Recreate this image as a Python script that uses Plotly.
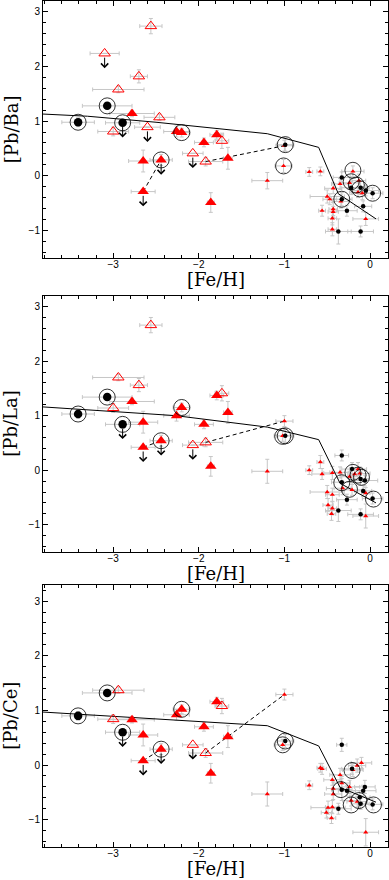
import plotly.graph_objects as go

# ---- metal-poor stars (big symbols), same [Fe/H] in the three panels ----
# open red triangles
opn_feh = [-2.56, -3.10, -2.70, -2.94, -2.46, -2.60, -3.00, -1.73, -2.07, -1.92]
opn_xerr = [0.13, 0.17, 0.10, 0.30, 0.18, 0.15, 0.18, 0.08, 0.12, 0.20]
opn_yerr = [0.14, 0.0, 0.12, 0.06, 0.06, 0.0, 0.08, 0.14, 0.0, 0.08]
opn_limit = [False, True, False, False, False, True, False, False, True, False]
opn_pbba = [2.74, 2.24, 1.82, 1.58, 1.07, 0.89, 0.81, 0.64, 0.41, 0.26]
opn_pbla = [2.66, None, 1.56, 1.70, None, None, 1.14, 1.41, 0.46, 0.51]
opn_pbce = [None, None, None, 1.37, None, None, 0.84, 1.08, 0.37, 0.22]

# filled red triangles
fil_feh = [-2.78, -2.26, -2.20, -1.79, -1.94, -1.66, -2.65, -2.44, -2.65, -1.86]
fil_xerr = [0.26, 0.15, 0.10, 0.08, 0.11, 0.05, 0.17, 0.13, 0.14, 0.04]
fil_yerr = [0.06, 0.10, 0.08, 0.08, 0.08, 0.20, 0.20, 0.10, 0.0, 0.18]
fil_limit = [False, False, False, False, False, False, False, True, True, False]
fil_circled = [False, False, True, False, False, False, False, True, False, False]
fil_pbba = [1.14, 0.81, 0.79, 0.75, 0.61, 0.32, 0.27, 0.29, -0.29, -0.49]
fil_pbla = [1.26, 1.00, 1.15, 1.37, 0.84, 1.06, 0.88, 0.54, 0.42, 0.07]
fil_pbce = [0.83, 0.92, 1.02, 1.16, 0.70, 0.52, 0.55, 0.29, 0.08, -0.15]

# big black dots (all circled)
big_feh = [-3.41, -3.07, -2.89]
big_xerr = [0.19, 0.29, 0.20]
big_yerr = [0.08, 0.06, 0.06]
big_limit = [False, False, True]
big_pbba = [0.98, 1.28, 0.97]
big_pbla = [1.03, 1.34, 0.84]
big_pbce = [0.90, 1.32, 0.60]

# second measurement at [Fe/H]=-1.0 joined by a dashed line to open triangle #10
link_feh = -1.0
link_xerr = 0.10
link_yerr = 0.10
link_pb = [0.55, 0.90, 1.29]

# ---- small symbols (metal-rich stars), one set per panel ----
ba_red_x = [-1.20, -1.01, -0.71, -0.58, -0.20, -0.35, -0.24, -0.13, -0.43, -0.14, -0.09, -0.50, -0.47, -0.34, -0.56, -0.43, -0.43, -0.44, -0.05, -0.44]
ba_red_y = [-0.09, 0.18, 0.07, 0.08, 0.08, -0.15, -0.13, -0.09, -0.23, -0.30, -0.32, -0.38, -0.43, -0.47, -0.64, -0.61, -0.66, -0.78, -0.79, -0.98]
ba_red_xerr = [0.18, 0.10, 0.04, 0.04, 0.13, 0.10, 0.12, 0.08, 0.10, 0.10, 0.12, 0.20, 0.08, 0.10, 0.04, 0.05, 0.06, 0.05, 0.15, 0.05]
ba_red_yerr = [0.15, 0.12, 0.08, 0.08, 0.10, 0.10, 0.12, 0.12, 0.10, 0.10, 0.12, 0.12, 0.10, 0.12, 0.10, 0.12, 0.10, 0.12, 0.12, 0.12]
ba_blk_x = [-0.99, -0.33, -0.22, -0.11, -0.05, 0.03, -0.33, -0.27, -0.08, -0.37, -0.11]
ba_blk_y = [0.57, -0.03, -0.22, -0.22, -0.27, -0.32, -0.43, -0.64, -0.56, -1.02, -1.02]
ba_blk_xerr = [0.10, 0.10, 0.12, 0.10, 0.15, 0.12, 0.12, 0.12, 0.10, 0.15, 0.15]
ba_blk_yerr = [0.12, 0.10, 0.12, 0.12, 0.10, 0.10, 0.12, 0.10, 0.10, 0.23, 0.10]
ba_ring_x = [-0.99, -1.01, -0.20, -0.22, -0.16, -0.12, 0.03, -0.33]
ba_ring_y = [0.57, 0.18, 0.10, -0.11, -0.17, -0.24, -0.32, -0.43]

la_red_x = [-1.20, -1.02, -0.58, -0.71, -0.56, -0.44, -0.35, -0.14, -0.12, -0.18, -0.24, -0.32, -0.21, -0.50, -0.44, -0.05, -0.49, -0.44, -0.45, -0.05]
la_red_y = [-0.02, 0.63, 0.15, 0.00, -0.07, -0.05, -0.04, 0.02, -0.06, -0.07, -0.12, -0.33, -0.36, -0.40, -0.45, -0.42, -0.64, -0.70, -0.80, -0.84]
la_red_xerr = [0.18, 0.10, 0.04, 0.04, 0.12, 0.10, 0.12, 0.10, 0.12, 0.08, 0.10, 0.10, 0.12, 0.20, 0.08, 0.05, 0.06, 0.05, 0.05, 0.15]
la_red_yerr = [0.22, 0.10, 0.12, 0.08, 0.10, 0.12, 0.10, 0.12, 0.12, 0.10, 0.10, 0.12, 0.10, 0.12, 0.12, 0.10, 0.12, 0.12, 0.12, 0.22]
la_blk_x = [-0.99, -0.33, -0.21, -0.11, -0.06, -0.33, 0.03, -0.08, -0.27, -0.37, -0.11]
la_blk_y = [0.63, 0.27, 0.02, -0.16, -0.19, -0.22, -0.52, -0.38, -0.54, -0.74, -0.81]
la_blk_xerr = [0.10, 0.08, 0.12, 0.10, 0.15, 0.12, 0.12, 0.10, 0.12, 0.15, 0.15]
la_blk_yerr = [0.12, 0.10, 0.12, 0.12, 0.10, 0.12, 0.10, 0.10, 0.10, 0.20, 0.10]
la_ring_x = [-0.99, -1.02, -0.20, -0.14, -0.10, -0.33, -0.24, 0.04]
la_ring_y = [0.63, 0.62, -0.04, -0.09, -0.13, -0.23, -0.35, -0.53]

ce_red_x = [-1.20, -1.02, -0.71, -0.58, -0.56, -0.35, -0.44, -0.43, -0.43, -0.20, -0.15, -0.10, -0.24, -0.33, -0.15, -0.22, -0.49, -0.44, -0.51, -0.45, -0.05]
ce_red_y = [-0.53, 0.37, -0.37, -0.05, -0.07, -0.18, -0.27, -0.43, -0.53, -0.09, -0.01, 0.04, -0.40, -0.33, -0.67, -0.65, -0.78, -0.77, -0.87, -0.97, -1.23]
ce_red_xerr = [0.18, 0.10, 0.04, 0.04, 0.05, 0.12, 0.10, 0.08, 0.10, 0.12, 0.10, 0.12, 0.12, 0.10, 0.12, 0.10, 0.20, 0.08, 0.06, 0.05, 0.15]
ce_red_yerr = [0.22, 0.10, 0.08, 0.08, 0.10, 0.12, 0.10, 0.12, 0.10, 0.12, 0.12, 0.10, 0.12, 0.12, 0.10, 0.10, 0.12, 0.12, 0.10, 0.10, 0.25]
ce_blk_x = [-0.99, -0.33, -0.21, -0.06, -0.08, -0.33, -0.27, -0.12, -0.11, 0.03, -0.37]
ce_blk_y = [0.44, 0.37, -0.07, -0.40, -0.47, -0.45, -0.47, -0.59, -0.71, -0.72, -0.80]
ce_blk_xerr = [0.10, 0.06, 0.12, 0.12, 0.15, 0.12, 0.10, 0.12, 0.10, 0.12, 0.15]
ce_blk_yerr = [0.12, 0.12, 0.10, 0.12, 0.10, 0.20, 0.10, 0.12, 0.10, 0.10, 0.10]
ce_ring_x = [-0.99, -1.02, -0.21, -0.34, -0.22, -0.13, 0.04]
ce_ring_y = [0.44, 0.37, -0.10, -0.45, -0.73, -0.65, -0.73]

# ---- model curves ----
ba_model_x = [-3.82, -3.30, -2.50, -1.20, -0.60, -0.37, 0.07]
ba_model_y = [1.13, 1.09, 0.98, 0.77, 0.52, -0.33, -0.79]
la_model_x = [-3.82, -2.27, -1.20, -0.60, -0.35, 0.07]
la_model_y = [1.16, 1.00, 0.79, 0.56, -0.24, -0.60]
ce_model_x = [-3.82, -1.20, -0.60, -0.35, 0.07]
ce_model_y = [0.97, 0.72, 0.35, -0.41, -0.68]

ylabels = ["[Pb/Ba]", "[Pb/La]", "[Pb/Ce]"]
domains = [[0.6966, 1.0], [0.3487, 0.6517], [0.0, 0.3100]]
yranges = [[-1.5, 3.2], [-1.5, 3.2], [-1.5, 3.3]]

GREY = "#c6c6c6"
RED = "#ff0000"

panels = [
    dict(opn=opn_pbba, fil=fil_pbba, big=big_pbba, link=link_pb[0],
         rx=ba_red_x, ry=ba_red_y, rxe=ba_red_xerr, rye=ba_red_yerr,
         bx=ba_blk_x, by=ba_blk_y, bxe=ba_blk_xerr, bye=ba_blk_yerr,
         cx=ba_ring_x, cy=ba_ring_y, mx=ba_model_x, my=ba_model_y),
    dict(opn=opn_pbla, fil=fil_pbla, big=big_pbla, link=link_pb[1],
         rx=la_red_x, ry=la_red_y, rxe=la_red_xerr, rye=la_red_yerr,
         bx=la_blk_x, by=la_blk_y, bxe=la_blk_xerr, bye=la_blk_yerr,
         cx=la_ring_x, cy=la_ring_y, mx=la_model_x, my=la_model_y),
    dict(opn=opn_pbce, fil=fil_pbce, big=big_pbce, link=link_pb[2],
         rx=ce_red_x, ry=ce_red_y, rxe=ce_red_xerr, rye=ce_red_yerr,
         bx=ce_blk_x, by=ce_blk_y, bxe=ce_blk_xerr, bye=ce_blk_yerr,
         cx=ce_ring_x, cy=ce_ring_y, mx=ce_model_x, my=ce_model_y),
]


def keep(xs, ys, *others):
    idx = [i for i, v in enumerate(ys) if v is not None]
    return [[lst[i] for i in idx] for lst in (xs, ys) + others]


fig = go.Figure()
annotations = []

for p, d in enumerate(panels):
    xa = "x" if p == 0 else "x%d" % (p + 1)
    ya = "y" if p == 0 else "y%d" % (p + 1)

    ox, oy, oxe, oye, olim = keep(opn_feh, d["opn"], opn_xerr, opn_yerr, opn_limit)
    fx, fy, fxe, fye, flim, fcir = keep(fil_feh, d["fil"], fil_xerr, fil_yerr, fil_limit, fil_circled)

    # error bars underneath everything
    groups = [
        (d["rx"], d["ry"], d["rxe"], d["rye"]),
        (d["bx"], d["by"], d["bxe"], d["bye"]),
        ([link_feh], [d["link"]], [link_xerr], [link_yerr]),
        (ox, oy, oxe, oye),
        (fx, fy, fxe, fye),
        (big_feh, d["big"], big_xerr, big_yerr),
    ]
    for gx, gy, gxe, gye in groups:
        fig.add_trace(go.Scatter(
            x=gx, y=gy, mode="markers", xaxis=xa, yaxis=ya,
            marker=dict(size=1, opacity=0),
            error_x=dict(type="data", array=gxe, color=GREY, thickness=1, width=2),
            error_y=dict(type="data", array=gye, color=GREY, thickness=1, width=2),
            showlegend=False, hoverinfo="skip"))

    # model curve
    fig.add_trace(go.Scatter(x=d["mx"], y=d["my"], mode="lines", xaxis=xa, yaxis=ya,
                             line=dict(color="black", width=1), showlegend=False))
    # dashed links between two measurements of the same star
    fig.add_trace(go.Scatter(x=[fil_feh[8], fil_feh[7]], y=[d["fil"][8], d["fil"][7]],
                             mode="lines", xaxis=xa, yaxis=ya,
                             line=dict(color="black", width=1, dash="4px,3px"), showlegend=False))
    fig.add_trace(go.Scatter(x=[opn_feh[9], link_feh], y=[d["opn"][9], d["link"]],
                             mode="lines", xaxis=xa, yaxis=ya,
                             line=dict(color="black", width=1, dash="4px,3px"), showlegend=False))

    # small symbols
    fig.add_trace(go.Scatter(x=d["rx"] + [link_feh], y=d["ry"] + [d["link"]], mode="markers",
                             xaxis=xa, yaxis=ya, showlegend=False,
                             marker=dict(symbol="triangle-up", size=4.5, color=RED)))
    fig.add_trace(go.Scatter(x=d["bx"], y=d["by"], mode="markers", xaxis=xa, yaxis=ya,
                             showlegend=False, marker=dict(symbol="circle", size=4.5, color="black")))

    # big symbols
    fig.add_trace(go.Scatter(x=ox, y=oy, mode="markers", xaxis=xa, yaxis=ya, showlegend=False,
                             marker=dict(symbol="triangle-up-open", size=10, color=RED,
                                         line=dict(width=1))))
    fig.add_trace(go.Scatter(x=fx, y=fy, mode="markers", xaxis=xa, yaxis=ya, showlegend=False,
                             marker=dict(symbol="triangle-up", size=10, color=RED)))
    fig.add_trace(go.Scatter(x=big_feh, y=d["big"], mode="markers", xaxis=xa, yaxis=ya,
                             showlegend=False, marker=dict(symbol="circle", size=8.5, color="black")))

    # rings
    rx = d["cx"] + big_feh + [fx[i] for i in range(len(fx)) if fcir[i]]
    ry = d["cy"] + d["big"] + [fy[i] for i in range(len(fy)) if fcir[i]]
    fig.add_trace(go.Scatter(x=rx, y=ry, mode="markers", xaxis=xa, yaxis=ya, showlegend=False,
                             marker=dict(symbol="circle-open", size=16, color="black",
                                         line=dict(width=0.8))))

    # upper-limit arrows
    lim_pts = [(ox[i], oy[i]) for i in range(len(ox)) if olim[i]]
    lim_pts += [(fx[i], fy[i]) for i in range(len(fx)) if flim[i]]
    lim_pts += [(big_feh[i], d["big"][i]) for i in range(3) if big_limit[i]]
    for lx, ly in lim_pts:
        annotations.append(dict(x=lx, y=ly - 0.27, ax=lx, ay=ly - 0.05, xref=xa, yref=ya,
                                axref=xa, ayref=ya, text="", showarrow=True, arrowhead=4,
                                arrowsize=1.4, arrowwidth=1, arrowcolor="black"))

    # axis titles
    annotations.append(dict(text=ylabels[p], xref="paper", yref="paper", x=-0.093,
                            y=sum(domains[p]) / 2, textangle=-90, showarrow=False,
                            xanchor="center", yanchor="middle",
                            font=dict(family="DejaVu Serif", size=18, color="black")))
    annotations.append(dict(text="[Fe/H]", xref="paper", yref="paper", x=0.5,
                            y=domains[p][0] - 22 / 846.0, showarrow=False,
                            xanchor="center", yanchor="middle",
                            font=dict(family="DejaVu Serif", size=18, color="black")))

axis_style = dict(showline=True, linecolor="black", linewidth=1, mirror="allticks",
                  ticks="inside", ticklen=5, tickwidth=1, tickcolor="black",
                  showgrid=False, zeroline=False, dtick=1, tick0=0,
                  tickfont=dict(family="Liberation Sans", size=10, color="black"),
                  minor=dict(ticks="inside", ticklen=3, tickwidth=1, tickcolor="black",
                             dtick=0.2, tick0=0, showgrid=False))

layout = dict(width=389, height=880, autosize=False, plot_bgcolor="white", paper_bgcolor="white",
              margin=dict(l=43, r=1, t=1, b=33), annotations=annotations, showlegend=False)
for p in range(3):
    xk = "xaxis" if p == 0 else "xaxis%d" % (p + 1)
    yk = "yaxis" if p == 0 else "yaxis%d" % (p + 1)
    xa = "x" if p == 0 else "x%d" % (p + 1)
    ya = "y" if p == 0 else "y%d" % (p + 1)
    layout[xk] = dict(axis_style, range=[-3.82, 0.21], domain=[0, 1], anchor=ya,
                      ticklabelstandoff=-3)
    layout[yk] = dict(axis_style, range=yranges[p], domain=domains[p], anchor=xa)

fig.update_layout(**layout)
# drop the browser's default 8px body margin so the figure sits at the window origin
fig.write_html("out.html", config={"displayModeBar": False},
               post_script="document.body.style.margin='0px';")
